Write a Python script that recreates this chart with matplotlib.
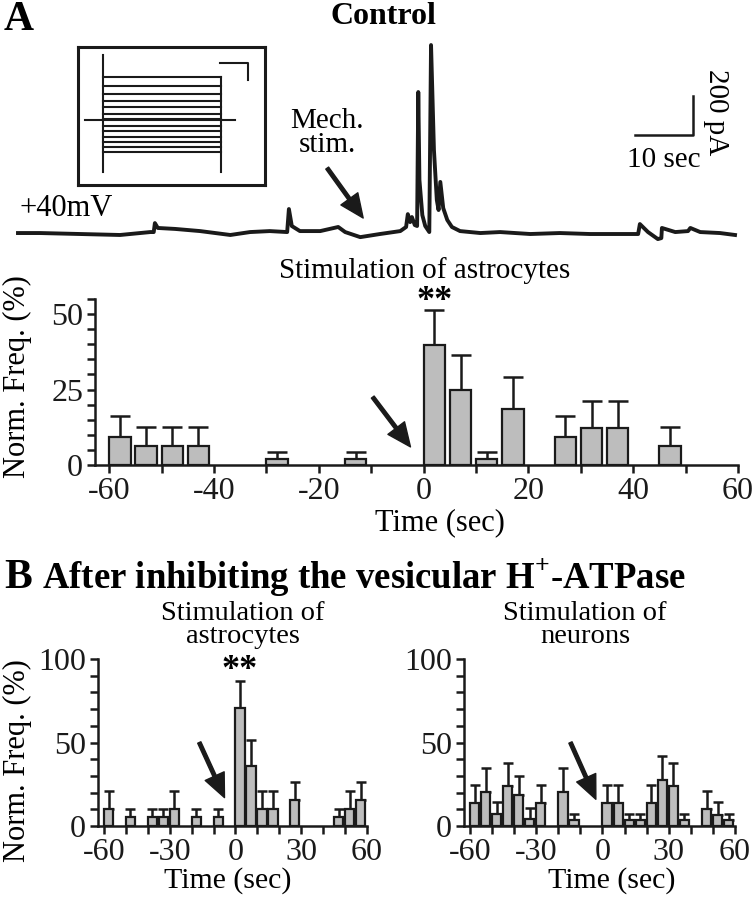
import numpy as np
import matplotlib
matplotlib.use("Agg")
import matplotlib.pyplot as plt

plt.rcParams["font.family"] = ["Liberation Serif", "DejaVu Serif"]
plt.rcParams["mathtext.fontset"] = "custom"
plt.rcParams["mathtext.rm"] = "Liberation Serif"
plt.rcParams["mathtext.bf"] = "Liberation Serif:bold"

W, H = 753, 899

## current trace (sec, pA)
trace_t = [0, 3.8, 10.7, 17.6, 22.8, 23.4, 23.6, 24.1, 27.1, 31.4, 36.6, 40.0, 43.4, 46.4, 46.7,
           47.2, 48.6, 52.1, 55.2, 56.4, 59.0, 62.4, 65.9, 66.9, 67.2, 67.6, 67.9, 68.4, 68.8, 69.0,
           69.2, 69.7, 70.2, 70.9, 71.2, 71.7, 72.2, 72.5, 72.8, 73.3, 74.0, 74.8, 76.2, 79.7, 83.1,
           88.3, 93.4, 98.6, 103.8, 106.9, 107.2, 108.6, 110.3, 110.9, 111.0, 113.3, 115.5, 115.9,
           117.6, 121.0, 123.6]
trace_pA = [0, 0, -5, -10, 5, 5, 51, 26, 21, 10, -10, 5, 10, 5, 123,
            36, 10, 10, 31, 5, -21, -5, 10, 31, 97, 56, 82, 41, 36, 723,
            272, 92, 36, 5, 964, 426, 169, 118, 262, 128, 67, 31, 10, 0, 5,
            -5, 0, -5, -5, -5, 46, 5, -31, -26, 26, 5, 10, 26,
            5, 0, -10]

## inset: step current levels (inset units)
inset_levels = [0.780, 0.717, 0.657, 0.609, 0.563, 0.514, 0.476, 0.430, 0.391, 0.350, 0.314, 0.278, 0.239]
inset_hold = 0.471

## histogram A: control, stimulation of astrocytes
a_bins = [-60, -55, -50, -45, -30, -15, 0, 5, 10, 15, 25, 30, 35, 45]
a_freq = [9.4, 6.3, 6.3, 6.3, 2.0, 2.0, 39.6, 24.9, 2.0, 18.7, 9.3, 12.4, 12.4, 6.2]
a_err = [7.0, 6.4, 6.4, 6.4, 2.2, 2.2, 11.8, 11.6, 2.2, 10.5, 7.1, 8.8, 8.8, 6.5]

## histogram B left: stimulation of astrocytes
bl_bins = [-60, -50, -40, -35, -30, -20, -10, 0, 5, 10, 15, 25, 45, 50, 55]
bl_freq = [10.4, 5.2, 5.2, 5.2, 10.4, 5.2, 5.2, 70.5, 35.9, 10.4, 10.4, 15.4, 5.2, 10.4, 15.4]
bl_err = [10.6, 5.2, 5.2, 5.2, 10.6, 5.2, 5.2, 16.3, 15.6, 10.6, 10.6, 11.2, 5.2, 10.6, 11.2]

## histogram B right: stimulation of neurons
br_bins = [-60, -55, -50, -45, -40, -35, -30, -20, -15, 0, 5, 10, 15, 20, 25, 30, 35, 45, 50, 55]
br_freq = [14.0, 20.4, 7.2, 24.0, 18.8, 4.4, 14.0, 20.6, 3.4, 14.0, 14.0, 3.4, 3.4, 14.0, 27.3, 24.0, 3.4, 10.0, 6.8, 3.4]
br_err = [10.8, 14.1, 7.0, 13.9, 11.1, 6.2, 10.8, 13.9, 3.8, 10.8, 10.8, 3.8, 3.8, 10.8, 14.6, 13.9, 3.8, 10.8, 7.4, 3.8]


def box(x0, y0, x1, y1):
    return [x0 / W, 1 - y1 / H, (x1 - x0) / W, (y1 - y0) / H]


def ftext(x, y, s, **kw):
    fig.text(x / W, 1 - y / H, s, **kw)


def hist(ax, bins, freq, err, width, capsize, ymax, yticks, ytick_step):
    bins = np.array(bins)
    ax.errorbar(bins + width / 2, freq, yerr=[np.zeros(len(err)), err], fmt="none",
                ecolor="#1a1a1a", elinewidth=1.8, capsize=capsize, capthick=1.8, zorder=1)
    ax.bar(bins, freq, width=width, align="edge", color="#bdbdbd", edgecolor="#1a1a1a",
           linewidth=1.6, zorder=2)
    ax.set_xlim(-62.7, 60)
    ax.set_ylim(0, ymax)
    ax.spines["top"].set_visible(False)
    ax.spines["right"].set_visible(False)
    for s in ["left", "bottom"]:
        ax.spines[s].set_linewidth(1.8)
        ax.spines[s].set_color("#1a1a1a")
    ax.set_xticks(np.arange(-60, 61, 10))
    yt = np.arange(0, ymax + 0.1, ytick_step)
    ax.set_yticks(yt)
    ax.set_yticklabels([str(int(v)) if v in yticks else "" for v in yt])
    ax.tick_params(width=1.8, length=5.5, labelsize=23, colors="#1a1a1a", pad=3)
    ax.set_facecolor("none")


fig = plt.figure(figsize=(W / 100, H / 100), dpi=100)

## panel A trace
ax_tr = fig.add_axes(box(0, 0, W, 250))
ax_tr.plot(trace_t, trace_pA, color="#1a1a1a", lw=2.8)
ax_tr.set_xlim(-3.1, 126.7)
ax_tr.set_ylim(-87, 1195)
ax_tr.axis("off")
# scale bars 10 sec / 200 pA
ax_tr.plot([106.4, 116.4, 116.4], [503, 503, 703], color="#1a1a1a", lw=1.8)
ax_tr.text(111.4, 374, "10 sec", ha="center", va="center", fontsize=21)
ax_tr.text(120.3, 620, "200 pA", ha="center", va="center", fontsize=21, rotation=-90)
ax_tr.text(0.3, 128, "+40mV", ha="left", va="center", fontsize=22)
ax_tr.text(53.3, 515, "Mech.\nstim.", ha="center", va="center", fontsize=21, linespacing=0.9)
ax_tr.annotate("", xy=(59.5, 77), xytext=(53.3, 333),
               arrowprops=dict(facecolor="#1a1a1a", edgecolor="#1a1a1a", width=2.5,
                               headwidth=15, headlength=17, shrink=0))

## inset with step currents
ax_in = fig.add_axes(box(78, 47, 265, 185))
ax_in.set_xlim(0, 1)
ax_in.set_ylim(0, 1)
ax_in.set_xticks([])
ax_in.set_yticks([])
for s in ax_in.spines.values():
    s.set_linewidth(2.2)
    s.set_color("#1a1a1a")
for lev in inset_levels:
    ax_in.plot([0.134, 0.765], [lev, lev], color="#1a1a1a", lw=1.5)
ax_in.plot([0.037, 0.84], [inset_hold, inset_hold], color="#1a1a1a", lw=1.5)
ax_in.plot([0.134, 0.134], [0.094, 0.94], color="#1a1a1a", lw=1.5)
ax_in.plot([0.765, 0.765], [0.094, inset_levels[0]], color="#1a1a1a", lw=1.5)
ax_in.plot([0.759, 0.909, 0.909], [0.886, 0.886, 0.761], color="#1a1a1a", lw=1.5)

ftext(4, 20, "A", fontsize=30, fontweight="bold", va="center", ha="left")
ftext(383, 17, "Control", fontsize=23, fontweight="bold", va="center", ha="center")

## panel A histogram
ax_a = fig.add_axes(box(95, 299, 738, 465))
hist(ax_a, a_bins, a_freq, a_err, 4.1, 7.5, 55, [0, 25, 50], 5)
ax_a.set_xticklabels(["-60", "", "-40", "", "-20", "", "0", "", "20", "", "40", "", "60"])
ax_a.text(2.1, 54.2, "**", ha="center", va="center", fontsize=26, fontweight="bold", clip_on=False)
ax_a.annotate("", xy=(-2.5, 6.0), xytext=(-9.7, 22.5),
              arrowprops=dict(facecolor="#1a1a1a", edgecolor="#1a1a1a", width=2.5,
                              headwidth=15, headlength=17, shrink=0))
ftext(425, 271, "Stimulation of astrocytes", fontsize=21, ha="center", va="center")
ftext(440, 523, "Time (sec)", fontsize=22, ha="center", va="center")
ftext(17, 377, "Norm. Freq. (%)", fontsize=22, ha="center", va="center", rotation=90)

## panel B
ftext(4, 578, "B", fontsize=30, fontweight="bold", va="center", ha="left")
ftext(42, 578, r"After inhibiting the vesicular H$^{\mathbf{+}}$-ATPase", fontsize=26.5,
      fontweight="bold", va="center", ha="left")

ax_bl = fig.add_axes(box(98, 659, 367, 826))
hist(ax_bl, bl_bins, bl_freq, bl_err, 4.2, 3.3, 100, [0, 50, 100], 10)
ax_bl.set_xticklabels(["-60", "", "", "-30", "", "", "0", "", "", "30", "", "", "60"])
ax_bl.text(1.8, 93, "**", ha="center", va="center", fontsize=26, fontweight="bold", clip_on=False)
ax_bl.annotate("", xy=(-5, 17), xytext=(-16.5, 50),
               arrowprops=dict(facecolor="#1a1a1a", edgecolor="#1a1a1a", width=2.5,
                               headwidth=15, headlength=17, shrink=0))
ftext(243, 625, "Stimulation of\nastrocytes", fontsize=20.5, ha="center", va="center", linespacing=0.92)
ftext(228, 881, "Time (sec)", fontsize=21.5, ha="center", va="center")
ftext(17, 761, "Norm. Freq. (%)", fontsize=22, ha="center", va="center", rotation=90)

ax_br = fig.add_axes(box(464, 659, 735, 826))
hist(ax_br, br_bins, br_freq, br_err, 4.2, 3.3, 100, [0, 50, 100], 10)
ax_br.set_xticklabels(["-60", "", "", "-30", "", "", "0", "", "", "30", "", "", "60"])
ax_br.annotate("", xy=(-3, 16), xytext=(-14.5, 50),
               arrowprops=dict(facecolor="#1a1a1a", edgecolor="#1a1a1a", width=2.5,
                               headwidth=15, headlength=17, shrink=0))
ftext(585, 625, "Stimulation of\nneurons", fontsize=20.5, ha="center", va="center", linespacing=0.92)
ftext(612, 881, "Time (sec)", fontsize=21.5, ha="center", va="center")

fig.savefig("out.png", dpi=100, facecolor="white")
